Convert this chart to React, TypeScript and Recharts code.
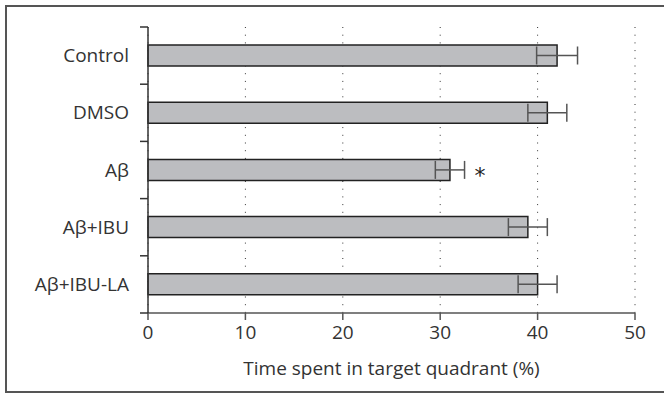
import { BarChart, Bar, XAxis, YAxis, CartesianGrid, ErrorBar, LabelList, Label } from "recharts"

const groups = ["Control", "DMSO", "Aβ", "Aβ+IBU", "Aβ+IBU-LA"]
const timeInQuadrant = [42, 41, 31, 39, 40]
const sem = [2.1, 2, 1.5, 2, 2]
const significance = ["", "", "*", "", ""]
const xTicks = [0, 10, 20, 30, 40, 50]

const data = groups.map((g, i) => ({
  name: g,
  value: timeInQuadrant[i],
  err: sem[i],
  sig: significance[i],
}))

const FONT = "'Open Sans', sans-serif"
const W = 664
const H = 397
const MARGIN = { top: 27, right: 29, left: 0, bottom: 22 }
const X_AXIS_H = 62
const Y_AXIS_W = 148
const plotTop = MARGIN.top
const plotBottom = H - MARGIN.bottom - X_AXIS_H
const band = (plotBottom - plotTop) / groups.length
const axisX = MARGIN.left + Y_AXIS_W

const GroupTick = (props: any) => {
  const { y, payload } = props
  return (
    <text x={axisX - 19} y={y} dy="0.35em" textAnchor="end" fill="#333" fontSize={19} fontFamily={FONT}>
      {payload.value}
    </text>
  )
}

const renderStar = (props: any) => {
  const vb = props.viewBox || props
  if (!props.value) return null
  return (
    <text
      x={vb.x + vb.width + 30}
      y={vb.y + vb.height / 2 + 13}
      textAnchor="middle"
      fontSize={22}
      fontFamily="'DejaVu Sans', sans-serif"
      fill="#222"
    >
      {props.value}
    </text>
  )
}

export default function App() {
  const edges = [...groups.map((_, i) => plotTop + i * band), plotBottom]
  return (
    <div style={{ position: "absolute", left: 0, top: 0, width: W, height: H, background: "#fff" }}>
      <div
        style={{
          position: "absolute",
          left: 5,
          top: 5,
          width: 670,
          height: 388,
          border: "2px solid #555",
          boxSizing: "border-box",
        }}
      />
      <BarChart
        width={W}
        height={H}
        data={data}
        layout="vertical"
        margin={MARGIN}
        style={{ position: "absolute", left: 0, top: 0, fontFamily: FONT }}
      >
        <CartesianGrid horizontal={false} vertical stroke="#333" strokeDasharray="1 6.7" />
        <XAxis
          type="number"
          domain={[0, 50]}
          ticks={xTicks}
          tickSize={7}
          tickMargin={6}
          height={X_AXIS_H}
          stroke="#555"
          strokeWidth={1.5}
          tick={{ fill: "#333", fontSize: 19, fontFamily: FONT }}
        >
          <Label
            value="Time spent in target quadrant (%)"
            position="insideBottom"
            offset={0}
            fill="#333"
            fontSize={19}
            fontFamily={FONT}
          />
        </XAxis>
        <YAxis
          type="category"
          dataKey="name"
          width={Y_AXIS_W}
          tickLine={false}
          axisLine={false}
          tick={<GroupTick />}
        />
        <Bar
          dataKey="value"
          fill="#bcbdc0"
          stroke="#222"
          strokeWidth={1.5}
          barSize={21}
          isAnimationActive={false}
        >
          <ErrorBar dataKey="err" direction="x" width={9} stroke="#555" strokeWidth={1.5} />
          <LabelList dataKey="sig" content={renderStar} />
        </Bar>
      </BarChart>
      {/* y axis line with tick marks on the band edges */}
      <svg width={W} height={H} style={{ position: "absolute", left: 0, top: 0, pointerEvents: "none" }}>
        <line x1={axisX} x2={axisX} y1={plotTop} y2={plotBottom} stroke="#333" strokeWidth={1.5} />
        {edges.map((e, i) => (
          <line key={i} x1={axisX - 8} x2={axisX} y1={e} y2={e} stroke="#333" strokeWidth={1.5} />
        ))}
      </svg>
    </div>
  )
}
